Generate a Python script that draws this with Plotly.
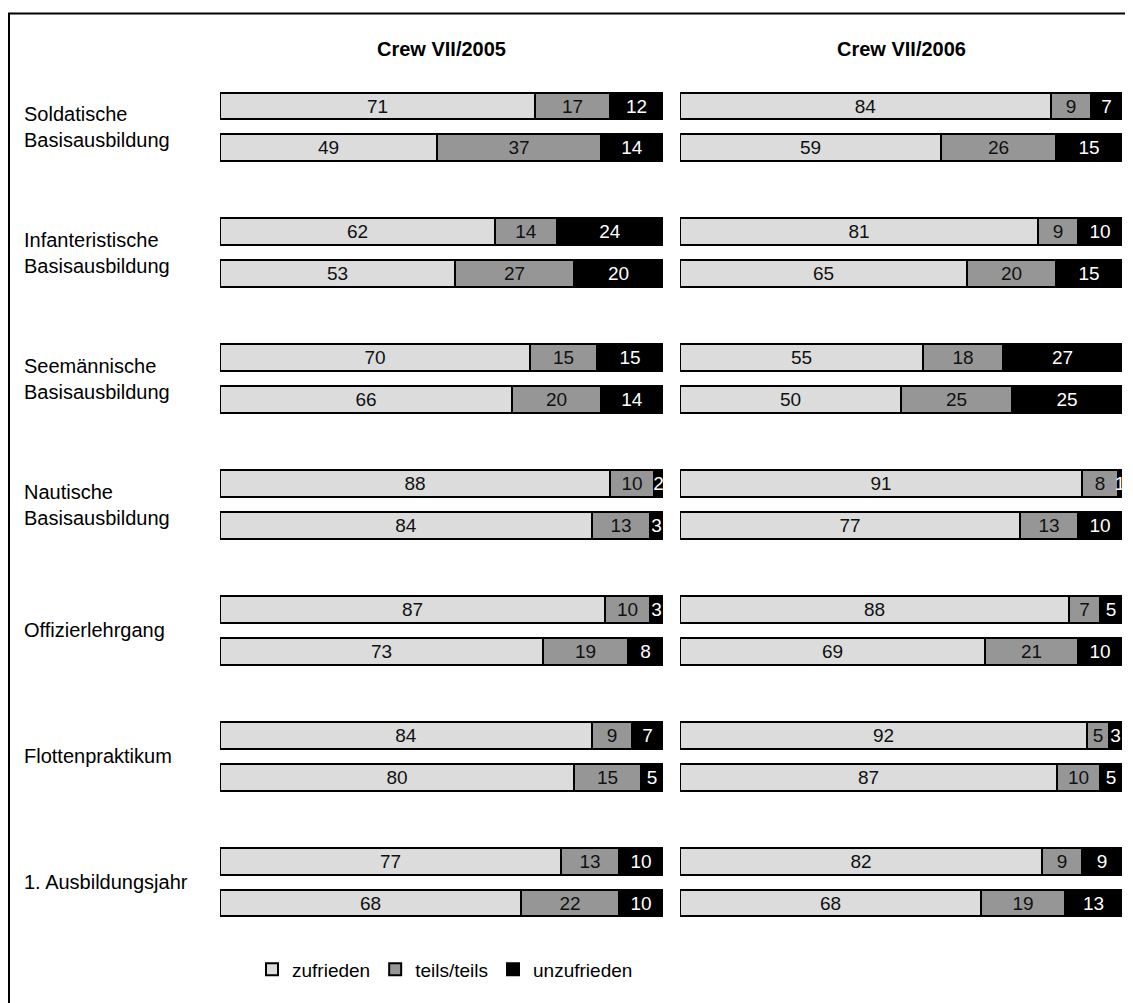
import plotly.graph_objects as go

# ---------------- data ----------------
categories = [
    "Soldatische<br>Basisausbildung",
    "Infanteristische<br>Basisausbildung",
    "Seemännische<br>Basisausbildung",
    "Nautische<br>Basisausbildung",
    "Offizierlehrgang",
    "Flottenpraktikum",
    "1. Ausbildungsjahr",
]
panel_titles = ["Crew VII/2005", "Crew VII/2006"]
series_names = ["zufrieden", "teils/teils", "unzufrieden"]

# two bars per category (upper, lower), in category order
zufrieden_2005 = [71, 49, 62, 53, 70, 66, 88, 84, 87, 73, 84, 80, 77, 68]
teils_2005 = [17, 37, 14, 27, 15, 20, 10, 13, 10, 19, 9, 15, 13, 22]
unzufrieden_2005 = [12, 14, 24, 20, 15, 14, 2, 3, 3, 8, 7, 5, 10, 10]

zufrieden_2006 = [84, 59, 81, 65, 55, 50, 91, 77, 88, 69, 92, 87, 82, 68]
teils_2006 = [9, 26, 9, 20, 18, 25, 8, 13, 7, 21, 5, 10, 9, 19]
unzufrieden_2006 = [7, 15, 10, 15, 27, 25, 1, 10, 5, 10, 3, 5, 9, 13]

# ---------------- styling ----------------
colors = ["#dcdcdc", "#969696", "#000000"]
text_colors = ["#111111", "#111111", "#ffffff"]
FONT = "Arial, 'Liberation Sans', sans-serif"

OFF = 8  # page body margin offset
W, H = 1133 - OFF, 1003 - OFF


def px(v):
    return v - OFF


L = px(220)
R = W - px(1122)
T = px(63.5)
B = H - px(945.5)
plot_w = W - L - R
plot_h = H - T - B

# y positions: 3 units per category, two bars at offset 0 and 1
ypos = []
for g in range(len(categories)):
    ypos += [3 * g, 3 * g + 1]

panels = [
    ("x", [zufrieden_2005, teils_2005, unzufrieden_2005]),
    ("x2", [zufrieden_2006, teils_2006, unzufrieden_2006]),
]

fig = go.Figure()
for pi, (xa, series) in enumerate(panels):
    for si, vals in enumerate(series):
        fig.add_trace(go.Bar(
            x=vals, y=ypos, orientation="h",
            xaxis=xa, yaxis="y",
            name=series_names[si],
            legendgroup=series_names[si],
            showlegend=(pi == 0),
            width=0.64,
            marker=dict(color=colors[si], line=dict(color="#000000", width=2)),
            text=[str(v) for v in vals],
            textposition="inside",
            insidetextanchor="middle",
            constraintext="none",
            textangle=0,
            textfont=dict(color=text_colors[si], size=19, family=FONT),
            cliponaxis=False,
            hoverinfo="skip",
        ))

left_dom = [0, (px(663) - L) / plot_w]
right_dom = [(px(680) - L) / plot_w, 1]

annotations = []
for g, cat in enumerate(categories):
    annotations.append(dict(
        x=(px(22) - L) / plot_w, xref="paper", xanchor="left",
        y=3 * g + 0.5, yref="y", yanchor="middle",
        text=cat, showarrow=False, align="left",
        font=dict(size=20, family=FONT, color="#000000"),
    ))
for xa, title in zip(["x", "x2"], panel_titles):
    annotations.append(dict(
        x=50, xref=xa, xanchor="center",
        y=1 + (T - px(48)) / plot_h, yref="paper", yanchor="middle",
        text="<b>" + title + "</b>", showarrow=False,
        font=dict(size=20, family=FONT, color="#000000"),
    ))

fig.update_layout(
    width=W, height=H,
    margin=dict(l=L, r=R, t=T, b=B, pad=0),
    paper_bgcolor="#ffffff", plot_bgcolor="#ffffff",
    barmode="stack",
    barnorm="percent",
    bargap=0,
    xaxis=dict(domain=left_dom, range=[0, 100], visible=False, fixedrange=True),
    xaxis2=dict(domain=right_dom, range=[0, 100], visible=False, anchor="y", fixedrange=True),
    yaxis=dict(range=[20, -1], visible=False, fixedrange=True),
    showlegend=True,
    legend=dict(
        orientation="h",
        x=(px(445) - L) / plot_w, xanchor="center",
        y=-(px(970) - (T + plot_h)) / plot_h, yanchor="middle",
        font=dict(size=19, family=FONT, color="#000000"),
        itemwidth=30, tracegroupgap=0,
        bgcolor="rgba(0,0,0,0)",
    ),
    annotations=annotations,
    shapes=[dict(
        type="rect", xref="paper", yref="paper",
        x0=(px(9) - L) / plot_w, x1=(W + 20 - L) / plot_w,
        y0=-(H + 20 - (T + plot_h)) / plot_h, y1=1 + (T - px(13)) / plot_h,
        line=dict(color="#000000", width=2), fillcolor="rgba(0,0,0,0)",
        layer="below",
    )],
)

fig.write_html("out.html")
